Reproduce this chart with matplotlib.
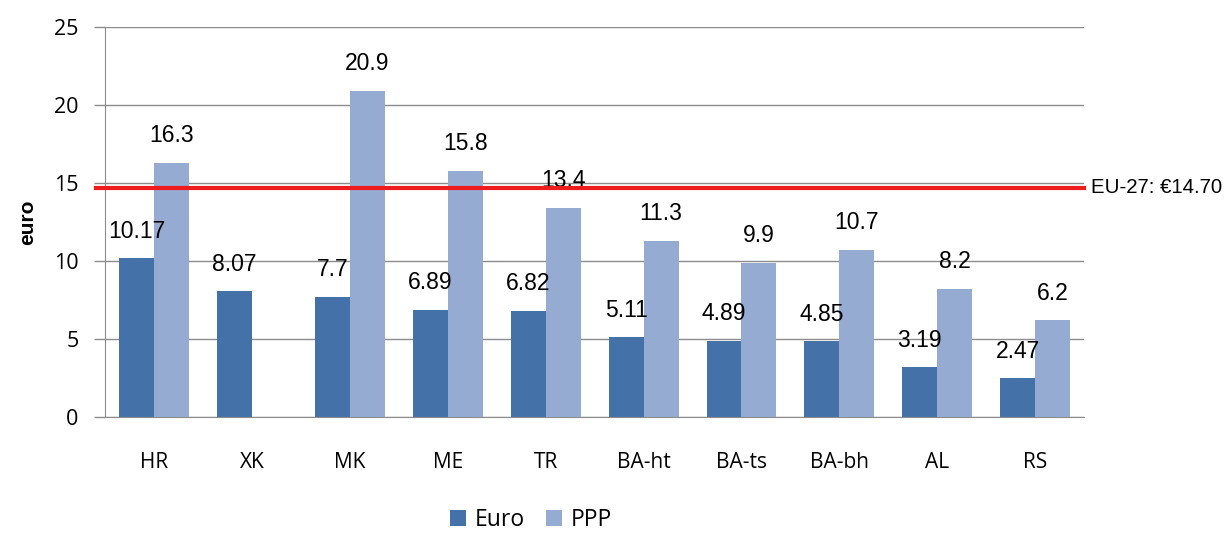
import matplotlib.pyplot as plt
import numpy as np

countries = ['HR', 'XK', 'MK', 'ME', 'TR', 'BA-ht', 'BA-ts', 'BA-bh', 'AL', 'RS']
euro = [10.17, 8.07, 7.7, 6.89, 6.82, 5.11, 4.89, 4.85, 3.19, 2.47]
ppp = [16.3, np.nan, 20.9, 15.8, 13.4, 11.3, 9.9, 10.7, 8.2, 6.2]
eu27 = 14.70

c_euro = '#4472a8'
c_ppp = '#95abd2'
grid_c = '#8c8c8c'

fig = plt.figure(figsize=(12.24, 5.37), dpi=100)
ax = fig.add_axes([0.0858, 0.2235, 0.8, 0.7262])

x = np.arange(len(countries))
w = 0.357
ax.bar(x - w / 2, euro, w, color=c_euro, label='Euro', zorder=2)
ax.bar(x + w / 2, ppp, w, color=c_ppp, label='PPP', zorder=2)

for i in range(len(countries)):
    ax.annotate(f'{euro[i]:g}', (x[i] - w / 2, euro[i]), xytext=(0, 19.5),
                textcoords='offset points', ha='center', va='center',
                fontsize=16.5, family='Liberation Sans')
    if not np.isnan(ppp[i]):
        ax.annotate(f'{ppp[i]:g}', (x[i] + w / 2, ppp[i]), xytext=(0, 19.5),
                    textcoords='offset points', ha='center', va='center',
                    fontsize=16.5, family='Liberation Sans')

ax.set_xlim(-0.5, len(countries) - 0.5)
ax.set_ylim(0, 25)
ax.set_yticks(range(0, 26, 5))
ax.yaxis.grid(True, color=grid_c, linewidth=1, zorder=0)
ax.set_axisbelow(True)

# EU-27 average line
ax.plot([-0.59, len(countries) - 0.5], [eu27, eu27], color='#ee1c1c',
        linewidth=3, clip_on=False, zorder=3)
ax.text(9.57, eu27, 'EU-27: €14.70', va='center', ha='left',
        fontsize=14.7, family='Liberation Sans')

for s in ['top', 'right']:
    ax.spines[s].set_visible(False)
ax.spines['left'].set_color(grid_c)
ax.spines['bottom'].set_color(grid_c)
ax.tick_params(axis='y', colors=grid_c, length=8, width=1, labelcolor='black',
               labelsize=15.5, pad=11)
ax.tick_params(axis='x', length=0, labelsize=15, pad=25)
ax.set_xticks(x)
ax.set_xticklabels(countries)
for lbl in ax.get_xticklabels() + ax.get_yticklabels():
    lbl.set_family('Open Sans')
ax.set_ylabel('euro', fontsize=15, fontweight='bold', family='Liberation Sans',
              labelpad=12)

fig.legend(loc='lower center', bbox_to_anchor=(0.434, -0.03), ncol=2, frameon=False,
           prop={'family': 'Open Sans', 'size': 16.5}, handlelength=0.7,
           handleheight=0.7, columnspacing=0.9, handletextpad=0.4)

plt.savefig('out.png', dpi=100)
